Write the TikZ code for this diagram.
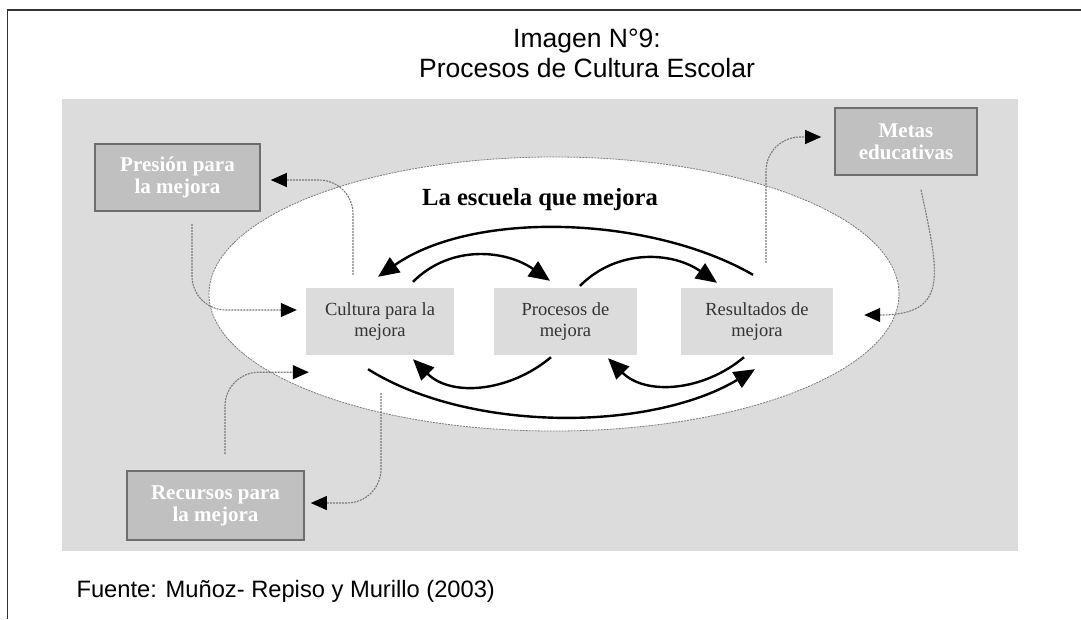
\documentclass[tikz,border=0pt]{standalone}
\usepackage{fontspec}
\setmainfont{Liberation Serif}
\newfontfamily\arialfont{Liberation Sans}
\usepackage{xcolor}
\usetikzlibrary{arrows.meta}
\usetikzlibrary{positioning, calc}
\definecolor{panelgray}{HTML}{DCDCDC}
\definecolor{boxgray}{HTML}{C0C0C0}
\definecolor{edgegray}{HTML}{6E6E6E}
\definecolor{linegray}{HTML}{7A7A7A}
\definecolor{framegray}{HTML}{333333}

\begin{document}
\begin{tikzpicture}[x=1pt,y=-1pt,
    innerbox/.style={fill=panelgray, text=black!80, minimum height=67pt, align=center,
      inner sep=0pt, font=\fontsize{18.5}{21}\selectfont},
    outerbox/.style={fill=boxgray, draw=edgegray, line width=1.6pt, text=white,
      minimum height=67pt, align=center, inner sep=0pt, font=\bfseries\fontsize{21}{22}\selectfont},
    bigarrow/.style={line width=2.4pt, -{Triangle[length=21pt,width=18pt]}},
    thinarrow/.style={draw=linegray, line width=1.1pt, dash pattern=on 2pt off 1pt,
      rounded corners=34pt, -{Triangle[length=16pt,width=14pt,color=black]}}]
      \useasboundingbox (0,0) rectangle (1081,619);

      % FRAME AND PANEL
      \draw[framegray, line width=1.3pt] (7.5,619) -- (7.5,10) -- (1081,10);
      \fill[panelgray] (62,99) rectangle (1018,551);
      \draw[linegray, line width=0.8pt, dash pattern=on 2pt off 1pt, fill=white]
      (554,294) ellipse [x radius=345pt, y radius=137pt]; % School

      % TEXTS
      \node[anchor=base, font=\arialfont\fontsize{26.5}{30}\selectfont] (title) at (587,47) {Imagen N°9:};
      \node[anchor=base, font=\arialfont\fontsize{26.5}{30}\selectfont] (subtitle) at (587,77) {Procesos de Cultura Escolar};
      \node[anchor=base west, font=\arialfont\fontsize{23.7}{27}\selectfont] (fuente) at (73,597) {Fuente: Muñoz- Repiso y Murillo (2003)};
      \node[anchor=base, font=\bfseries\fontsize{24.6}{28}\selectfont] (escuela) at (540,205) {La escuela que mejora};

      % BOXES
      \node[innerbox, minimum width=148pt] (cultura) at (380,321.5) {Cultura para la\\mejora};
      \node[innerbox, minimum width=143pt] (procesos) at (565.5,321.5) {Procesos de\\mejora};
      \node[innerbox, minimum width=152pt] (resultados) at (757,321.5) {Resultados de\\mejora};
      \node[outerbox, minimum width=165pt] (presion) at (177.5,177.5) {Presión para\\la mejora};
      \node[outerbox, minimum width=142pt] (metas) at (906,141.5) {Metas\\educativas};
      \node[outerbox, minimum width=177pt, minimum height=69pt] (recursos) at (215.5,505.5) {Recursos para\\la mejora};

      % CYCLE
      \draw[bigarrow] ([xshift=-4pt,yshift=13pt]resultados.north) to[out=150,in=35,looseness=0.8] ([xshift=-2pt,yshift=11pt]cultura.north);
      \draw[bigarrow] ([xshift=33pt,yshift=6pt]cultura.north) to[out=45,in=145] ([xshift=-15.5pt,yshift=7pt]procesos.north);
      \draw[bigarrow] ([xshift=14.5pt,yshift=2pt]procesos.north) to[out=45,in=145] ([xshift=-40pt,yshift=5pt]resultados.north);
      \draw[bigarrow] ([xshift=-14.5pt,yshift=-2pt]procesos.south) to[out=-140,in=-45] ([xshift=33pt,yshift=-4pt]cultura.south);
      \draw[bigarrow] ([xshift=-13pt,yshift=-2pt]resultados.south) to[out=-140,in=-45] ([xshift=42.5pt,yshift=-3pt]procesos.south);
      \draw[bigarrow] ([xshift=-12pt,yshift=-14pt]cultura.south) to[out=-32,in=-149,looseness=0.8] ([xshift=-2pt,yshift=-14pt]resultados.south);

      % OUTSIDE
      \draw[thinarrow] ([xshift=-27pt,yshift=13pt]cultura.north) |- ([xshift=10pt,yshift=-2.5pt]presion.east);
      \draw[thinarrow] ([xshift=14.5pt,yshift=-12pt]presion.south) |- ([xshift=-9pt,yshift=11.5pt]cultura.west);
      \draw[thinarrow] ([xshift=9.5pt,yshift=16pt]recursos.north) |- ([xshift=3pt,yshift=-17pt]cultura.south west);
      \draw[thinarrow] ([xshift=1pt,yshift=-38pt]cultura.south) |- ([xshift=6pt,yshift=2.5pt]recursos.east);
      \draw[thinarrow] ([xshift=9pt,yshift=25pt]resultados.north) |- ([xshift=-13pt,yshift=4.5pt]metas.west);
      \draw[thinarrow] ([xshift=15pt,yshift=-14pt]metas.south) to[out=-78,in=0,looseness=1.6] ([xshift=31pt,yshift=6.5pt]resultados.east);
    \end{tikzpicture}
\end{document}
